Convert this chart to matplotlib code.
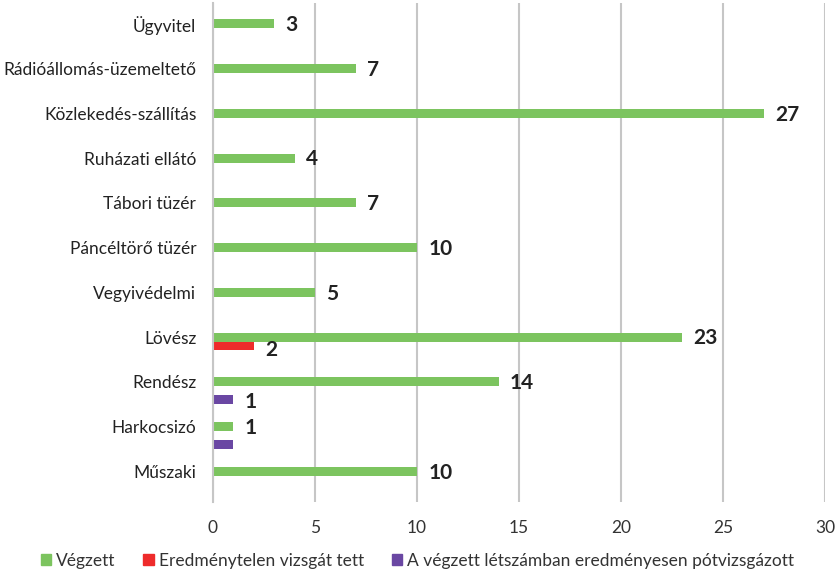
import numpy as np
import matplotlib.pyplot as plt
from matplotlib.patches import Patch

plt.rcParams['font.family'] = ['Lato', 'DejaVu Sans']

categories = ['Ügyvitel', 'Rádióállomás-üzemeltető', 'Közlekedés-szállítás',
              'Ruházati ellátó', 'Tábori tüzér', 'Páncéltörő tüzér', 'Vegyivédelmi',
              'Lövész', 'Rendész', 'Harkocsizó', 'Műszaki']
vegzett = [3, 7, 27, 4, 7, 10, 5, 23, 14, 1, 10]
eredmenytelen = [0, 0, 0, 0, 0, 0, 0, 2, 0, 0, 0]
potvizsga = [0, 0, 0, 0, 0, 0, 0, 0, 1, 1, 0]
# which purple bars carry a label in the original
pot_labels = [False, False, False, False, False, False, False, False, True, False, False]

series_names = ['Végzett', 'Eredménytelen vizsgát tett',
                'A végzett létszámban eredményesen pótvizsgázott']
colors = ['#7cc45f', '#ee2b2b', '#6a47a3']

fig = plt.figure(figsize=(8.35, 5.7), dpi=100)
ax = fig.add_axes([0.255, 0.119, 0.733, 0.876])

y = np.arange(len(categories))
h = 0.2
ax.barh(y, vegzett, height=h, color=colors[0])
ax.barh(y + h, eredmenytelen, height=h, color=colors[1])
ax.barh(y + 2 * h, potvizsga, height=h, color=colors[2])

lab = dict(fontsize=15, fontweight='bold', color='#222222', va='center', ha='left')
for i, v in enumerate(vegzett):
    ax.text(v + 0.55, y[i] + 0.03, str(v), **lab)
for i, v in enumerate(eredmenytelen):
    if v:
        ax.text(v + 0.55, y[i] + h + 0.08, str(v), **lab)
for i, v in enumerate(potvizsga):
    if v and pot_labels[i]:
        ax.text(v + 0.55, y[i] + 2 * h + 0.05, str(v), **lab)

ax.set_xlim(0, 30)
ax.set_ylim(10.69, -0.47)
ax.set_xticks(range(0, 31, 5))
ax.set_yticks(y)
ax.set_yticklabels(categories)
ax.tick_params(axis='x', length=0, pad=13, labelsize=12.5, labelcolor='#333333')
ax.tick_params(axis='y', length=0, pad=12, labelsize=12.5, labelcolor='#222222')
ax.xaxis.grid(True, color='#c6c6c6', linewidth=1.5)
ax.set_axisbelow(True)
for s in ['top', 'right', 'bottom']:
    ax.spines[s].set_visible(False)
ax.spines['left'].set_color('#c6c6c6')
ax.spines['left'].set_linewidth(1.5)

handles = [Patch(color=c) for c in colors]
fig.legend(handles, series_names, loc='lower center', bbox_to_anchor=(0.5, -0.025),
           ncol=3, frameon=False, fontsize=12.5, handlelength=0.6, handleheight=0.6,
           handletextpad=0.3, columnspacing=1.6, labelcolor='#333333')

fig.savefig('out.png', dpi=100)
